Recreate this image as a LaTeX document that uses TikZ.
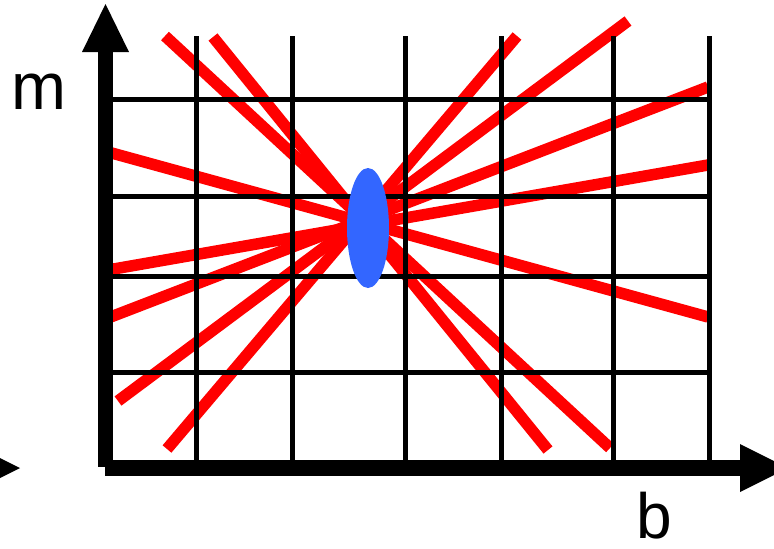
\documentclass[tikz,border=0pt]{standalone}
\usepackage{fontspec}
\setmainfont{Liberation Sans}
\usetikzlibrary{shapes.geometric}
\definecolor{hred}{RGB}{255,0,0}
\definecolor{hblue}{RGB}{51,102,255}
\begin{document}
\begin{tikzpicture}[x=1pt,y=-1pt,
  houghline/.style={draw=hred, line width=11.5pt},
  gridline/.style={draw=black, line width=5pt},
  axisbar/.style={fill=black},
  lbl/.style={inner sep=0pt, anchor=base}]
\useasboundingbox (0,0) rectangle (774,549);
\clip (0,0) rectangle (774,549);
% red lines
\coordinate (r1a) at (165,36);  \coordinate (r1b) at (610,448);
\coordinate (r2a) at (213,37);  \coordinate (r2b) at (548,450);
\coordinate (r3a) at (108,152); \coordinate (r3b) at (708,317);
\coordinate (r4a) at (108,270); \coordinate (r4b) at (708,165);
\coordinate (r5a) at (108,318); \coordinate (r5b) at (708,87);
\coordinate (r6a) at (118,401); \coordinate (r6b) at (628,21);
\coordinate (r7a) at (167,449); \coordinate (r7b) at (517,36);
\foreach \i in {1,...,7} {\draw[houghline] (r\i a) -- (r\i b);}
% grid
\foreach \gx in {196,292,405,501,613,709} {\draw[gridline] (\gx,36) -- (\gx,468);}
\foreach \gy in {99.5,196,276,372} {\draw[gridline] (105,\gy) -- (711.5,\gy);}
% ellipse
\node[fill=hblue, ellipse, minimum width=42pt, minimum height=120pt, inner sep=0pt] (spot) at (368,228) {};
% axes
\coordinate (o) at (105.5,468);
\fill[axisbar] (98,52) rectangle (113,467);
\fill[axisbar] (105,460) rectangle (740,476);
\fill[axisbar] (82,52) -- (105.5,4) -- (129,52) -- cycle;
\fill[axisbar] (740,444) -- (788,468) -- (740,492) -- cycle;
\fill[axisbar] (-28,444) -- (20,468) -- (-28,492) -- cycle;
% labels
\node[lbl, font=\fontsize{66}{66}\selectfont] (mlab) at (39,109) {m};
\node[lbl, font=\fontsize{64}{64}\selectfont] (blab) at (654.5,538) {b};
\end{tikzpicture}
\end{document}
